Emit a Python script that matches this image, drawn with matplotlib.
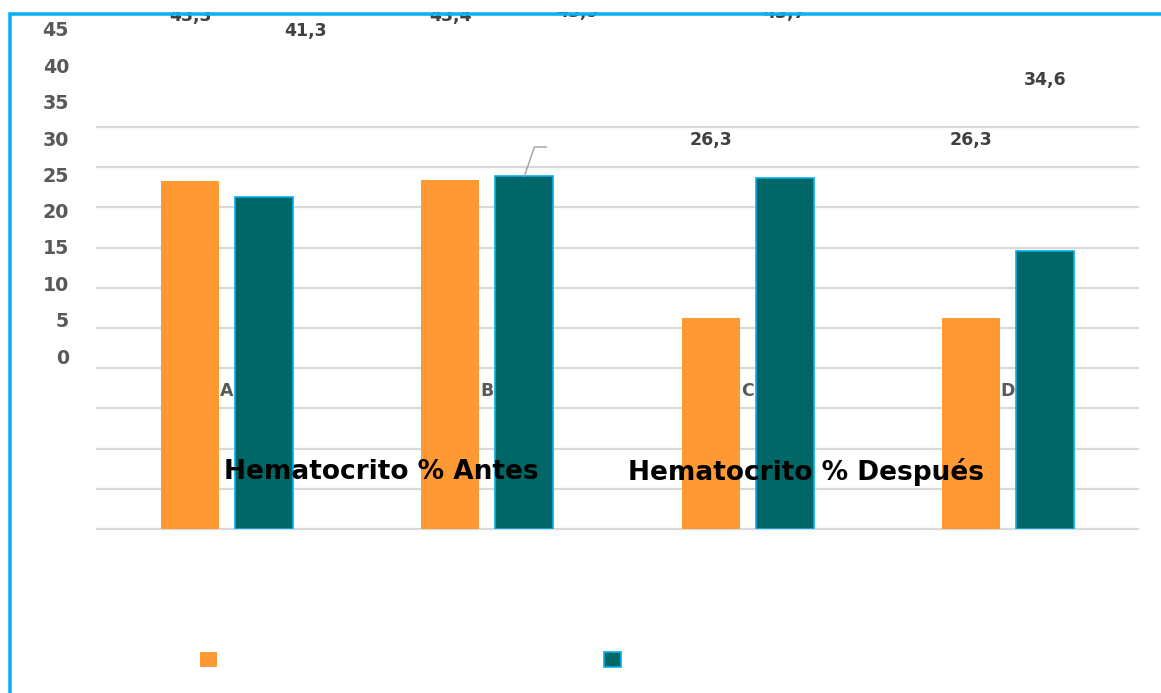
import matplotlib
matplotlib.use("Agg")
import matplotlib.pyplot as plt
from matplotlib.patches import Rectangle
import numpy as np

# ---- data ----
categories = ["A", "B", "C", "D"]
antes = [43.3, 43.4, 26.3, 26.3]
despues = [41.3, 43.9, 43.7, 34.6]
series_names = ["Hematocrito % Antes", "Hematocrito % Después"]
tick_values = list(range(0, 46, 5))
grid_values = list(range(0, 51, 5))

# ---- style ----
ORANGE = "#FF9933"
TEAL = "#006666"
CYAN = "#00B0F0"
GRID = "#D9D9D9"
TICK_GREY = "#595959"
LABEL_GREY = "#404040"

W, H = 1161, 693
DPI = 100
PX = 72 / DPI  # points per pixel

fig = plt.figure(figsize=(W / DPI, H / DPI), dpi=DPI)
fig.patch.set_facecolor("white")


def fig_rect(left, top, right, bottom):
    return [left / W, 1 - bottom / H, (right - left) / W, (bottom - top) / H]


# main plot area with bars and gridlines
ax = fig.add_axes(fig_rect(97, 127, 1138, 529))
x = np.arange(len(categories))
off, bw = 0.1423, 0.223
bars_a = ax.bar(x - off, antes, bw, color=ORANGE, edgecolor="none", zorder=2)
bars_d = ax.bar(x + off, despues, bw, color=TEAL, edgecolor=CYAN,
                linewidth=1.2, zorder=2)
ax.set_xlim(-0.5, len(categories) - 0.5)
ax.set_ylim(0, 50)
ax.set_yticks(grid_values)
ax.set_xticks([])
ax.tick_params(left=False, labelleft=False)
ax.grid(axis="y", color=GRID, linewidth=1.6)
ax.set_axisbelow(True)
for gl in ax.get_ygridlines():
    gl.set_clip_on(False)
for s in ax.spines.values():
    s.set_visible(False)
ax.patch.set_alpha(0)

# leader line from the B "después" bar
ax.annotate("", xy=(x[1] + off, despues[1]), xycoords="data",
            xytext=(22 * PX, 29 * PX), textcoords="offset points",
            arrowprops=dict(arrowstyle="-", color="#A6A6A6", lw=1.1,
                            shrinkA=0, shrinkB=0,
                            connectionstyle="angle,angleA=0,angleB=71,rad=0"),
            zorder=3)

# value axis, category labels and data labels
lab = fig.add_axes(fig_rect(97, 29, 1138, 356))
lab.set_xlim(ax.get_xlim())
lab.set_ylim(0, 45)
lab.patch.set_alpha(0)
for s in lab.spines.values():
    s.set_visible(False)
lab.set_yticks(tick_values)
lab.set_yticklabels([str(v) for v in tick_values], fontsize=13.7,
                    fontweight="bold", color=TICK_GREY)
lab.set_xticks(x)
lab.set_xticklabels(categories, fontsize=12.5, fontweight="bold",
                    color=TICK_GREY)
lab.tick_params(axis="y", length=0, pad=28 * PX)
lab.tick_params(axis="x", length=0, pad=26 * PX)

nudge_a = [0, 0, 0, 0]
nudge_d = [41, 53, 0, 0]


def fmt(v):
    return f"{v:.1f}".replace(".", ",")


for xi, v, dx in zip(x - off, antes, nudge_a):
    lab.annotate(fmt(v), (xi, v), xytext=(dx * PX, 25 * PX),
                 textcoords="offset points", ha="center", va="center",
                 fontsize=12.5, fontweight="bold", color=LABEL_GREY,
                 annotation_clip=False)
for xi, v, dx in zip(x + off, despues, nudge_d):
    lab.annotate(fmt(v), (xi, v), xytext=(dx * PX, 25 * PX),
                 textcoords="offset points", ha="center", va="center",
                 fontsize=12.5, fontweight="bold", color=LABEL_GREY,
                 annotation_clip=False)

# series names
fig.text(224 / W, 1 - 472 / H, series_names[0], ha="left", va="center",
         fontsize=19, fontweight="bold", color="black", zorder=5)
fig.text(628 / W, 1 - 472 / H, series_names[1], ha="left", va="center",
         fontsize=19, fontweight="bold", color="black", zorder=5)

# legend markers
leg_fs = 12
col_sp = (404 - leg_fs / PX) / (leg_fs / PX)
fig.legend(handles=[bars_a, bars_d], labels=["", ""], ncol=2,
           loc="upper left", bbox_to_anchor=(200 / W, 1 - 651 / H),
           frameon=False, borderpad=0, borderaxespad=0, handlelength=1,
           handleheight=1, handletextpad=0, columnspacing=col_sp,
           prop={"size": leg_fs})

# chart frame
fig.add_artist(Rectangle((0, 1 - 12 / H), 1, 12 / H, transform=fig.transFigure,
                         facecolor="white", edgecolor="none", zorder=20))
fig.add_artist(Rectangle((0, 0), 8 / W, 1, transform=fig.transFigure,
                         facecolor="white", edgecolor="none", zorder=20))
fig.add_artist(Rectangle((9.7 / W, -0.2), 1.5, 1.2 - 13.5 / H,
                         transform=fig.transFigure, facecolor="none",
                         edgecolor=CYAN, linewidth=3.5 * PX, zorder=21))

fig.savefig("out.png", dpi=DPI)
